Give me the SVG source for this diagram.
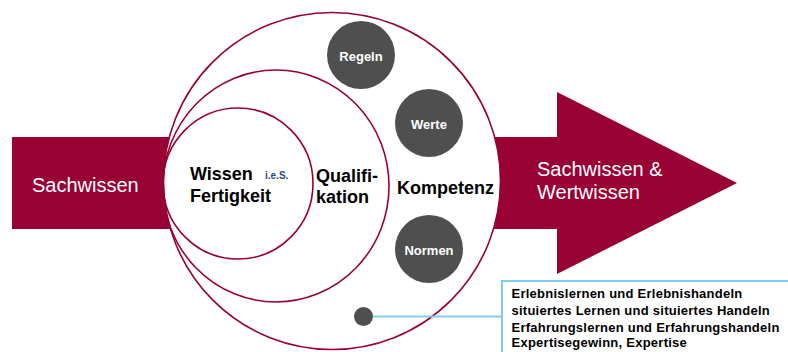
<svg xmlns="http://www.w3.org/2000/svg" width="788" height="352" viewBox="0 0 788 352">
  <defs>
    <style>
      .band { fill: #990033; }
      .ring { fill: none; stroke: #990033; stroke-width: 1.6; }
      .blob { fill: #4f4f4f; }
      .band-text { font-family: "Liberation Sans", Arial, sans-serif; font-size: 20px; fill: #ffffff; }
      .head { font-family: "Liberation Sans", Arial, sans-serif; font-size: 18px; font-weight: bold; fill: #000000; }
      .blob-text { font-family: "Liberation Sans", Arial, sans-serif; font-size: 13px; font-weight: bold; fill: #ffffff; text-anchor: middle; }
      .note { font-family: "Liberation Sans", Arial, sans-serif; font-size: 13px; font-weight: bold; fill: #000000; letter-spacing: 0.25px; }
      .link { stroke: #80ccee; stroke-width: 2; fill: none; }
    </style>
  </defs>

  <rect width="788" height="352" fill="#ffffff"/>

  <!-- incoming band -->
  <g id="sachwissen">
    <rect class="band" x="12" y="137" width="170" height="92"/>
    <text class="band-text" x="32" y="192">Sachwissen</text>
  </g>

  <!-- outgoing arrow -->
  <g id="ergebnis">
    <polygon class="band" points="470,137 557,137 557,92 737,183 557,274 557,229 470,229"/>
    <text class="band-text" x="537" y="176">Sachwissen &amp;</text>
    <text class="band-text" x="537" y="199">Wertwissen</text>
  </g>

  <!-- outer circle -->
  <g id="kompetenz">
    <circle cx="332" cy="181" r="168.5" fill="#ffffff" stroke="#990033" stroke-width="1.6"/>
    <text class="head" x="397" y="194">Kompetenz</text>
  </g>

  <!-- middle circle -->
  <g id="qualifikation">
    <ellipse class="ring" cx="276" cy="186" rx="113" ry="116"/>
    <text class="head" x="316" y="182">Qualifi-</text>
    <text class="head" x="316" y="203">kation</text>
  </g>

  <!-- inner circle -->
  <g id="wissen">
    <ellipse class="ring" cx="238" cy="183.5" rx="75" ry="75.5"/>
    <text class="head" x="190" y="180">Wissen</text>
    <text x="265" y="179" font-family="'Liberation Sans', Arial, sans-serif" font-size="10" font-weight="bold" fill="#1f4e79">i.e.S.</text>
    <text class="head" x="190" y="202">Fertigkeit</text>
  </g>

  <g id="regeln">
    <circle class="blob" cx="361" cy="55" r="34"/>
    <text class="blob-text" x="361" y="61">Regeln</text>
  </g>

  <g id="werte">
    <circle class="blob" cx="429" cy="123" r="34"/>
    <text class="blob-text" x="429" y="129">Werte</text>
  </g>

  <g id="normen">
    <circle class="blob" cx="429" cy="249" r="34"/>
    <text class="blob-text" x="429" y="255">Normen</text>
  </g>

  <g id="lernformen-punkt">
    <circle class="blob" cx="363.5" cy="316.5" r="9.5"/>
  </g>

  <!-- connector from dot to note -->
  <g id="connectors">
    <line class="link" x1="373" y1="316.5" x2="502" y2="316.5"/>
  </g>

  <g id="lernformen">
    <rect x="502" y="281" width="300" height="90" fill="#ffffff" stroke="#80ccee" stroke-width="2"/>
    <text class="note" x="511.5" y="298">Erlebnislernen und Erlebnishandeln</text>
    <text class="note" x="511.5" y="315">situiertes Lernen und situiertes Handeln</text>
    <text class="note" x="511.5" y="331.5">Erfahrungslernen und Erfahrungshandeln</text>
    <text class="note" x="511.5" y="346.5">Expertisegewinn, Expertise</text>
  </g>
</svg>
